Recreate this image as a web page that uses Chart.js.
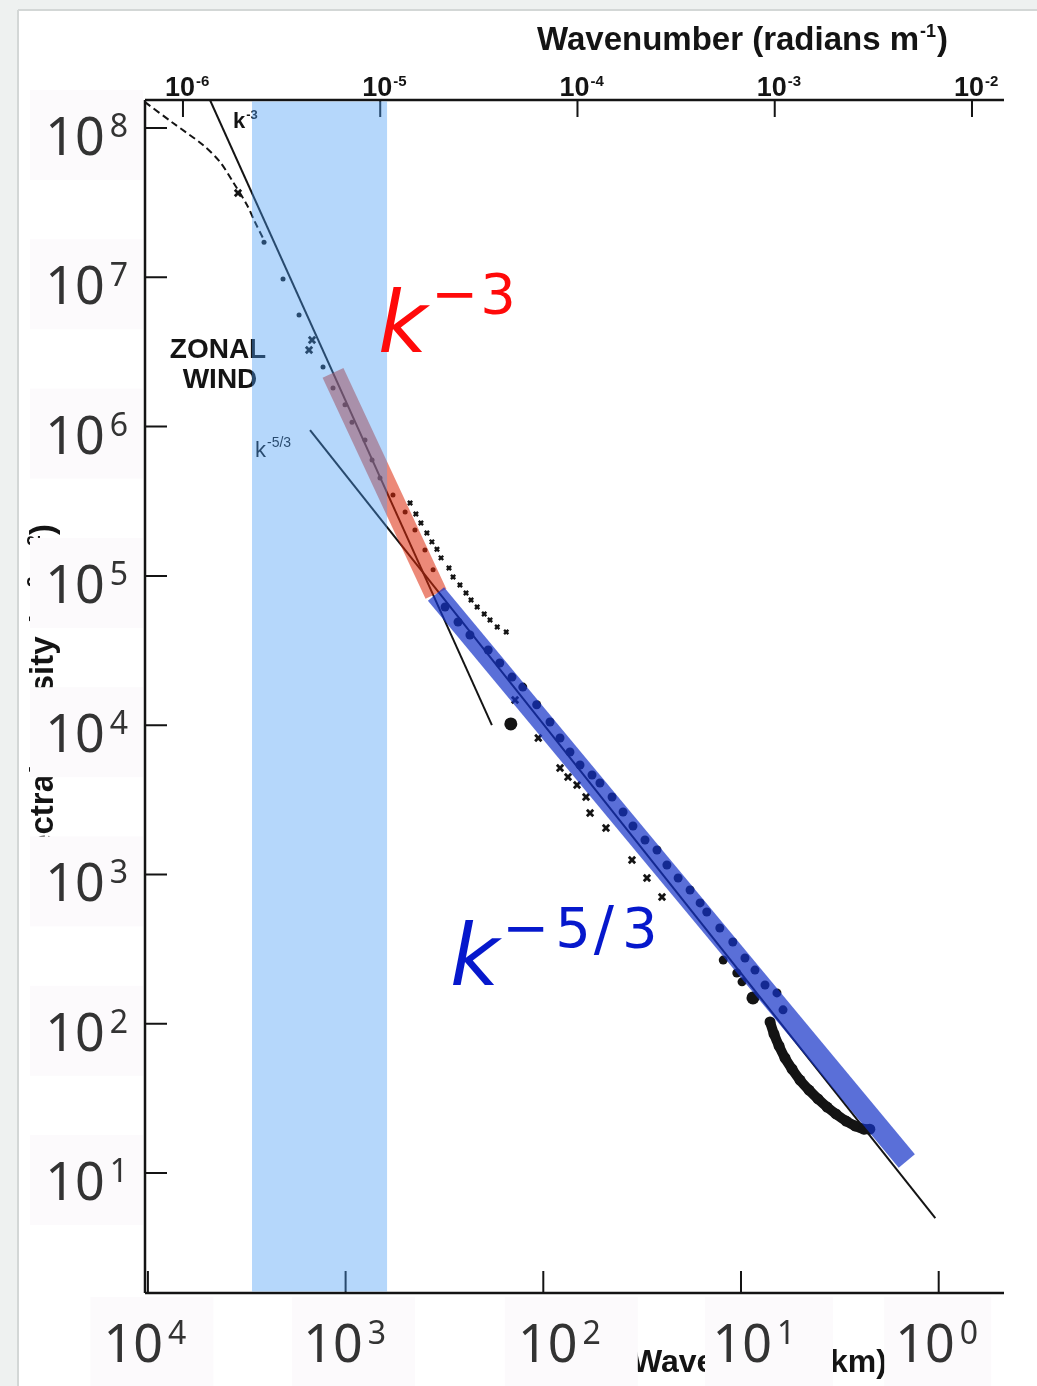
<!DOCTYPE html>
<html>
<head>
<meta charset="utf-8">
<title>Zonal wind spectrum</title>
<script src="https://cdn.jsdelivr.net/npm/chart.js@4.4.1/dist/chart.umd.min.js"></script>
<style>
  html, body { margin: 0; padding: 0; background: #fff; }
  #wrap { width: 1037px; height: 1386px; }
</style>
</head>
<body>
<div id="wrap"><canvas id="spectrum" width="1037" height="1386"></canvas></div>
<script>
// ----- AXES -----
const wavelengthTicks = [1e4, 1e3, 1e2, 1e1, 1];           // km, bottom axis
const densityTicks = [1e1, 1e2, 1e3, 1e4, 1e5, 1e6, 1e7, 1e8];
const wavenumberTicks = [1e-6, 1e-5, 1e-4, 1e-3, 1e-2];     // radians m^-1, top axis
const wavelengthRange = [0.4674, 10344];
const densityRange = [1.5735, 1.54e8];
const wavenumberRange = [6.42e-7, 0.01453];
const shadedBand = [617, 2974];                             // km

// ----- DATA -----
const dashedLambda = [10344, 7464, 5263, 4318, 3711, 3153, 2872, 2617];
const dashedDensity = [1.49e8, 1.08e8, 7.69e7, 5.92e7, 4.35e7, 3.05e7, 2.34e7, 1.83e7];

const kMinus3Lambda = [4852, 182];
const kMinus3Density = [1.54e8, 1.0e4];
const kMinus53Lambda = [1513, 1.04];
const kMinus53Density = [9.48e5, 5.0];

const zonalLambda = [2586, 2073, 1720, 1301, 1158, 1007, 928, 798, 735, 670, 576, 500, 446, 397, 361];
const zonalDensity = [1.72e7, 9.74e6, 5.59e6, 2.51e6, 1.81e6, 1.40e6, 1.07e6, 8.13e5, 5.97e5, 4.53e5, 3.48e5, 2.68e5, 2.03e5, 1.49e5, 1.10e5];
const zonalCrossLambda = [3502, 1531, 1479];
const zonalCrossDensity = [3.67e7, 3.26e6, 3.80e6];

const meridLambda = [472, 441, 416, 388, 366, 345, 329, 300, 286, 264, 246, 232, 216, 199, 186, 171, 154];
const meridDensity = [3.08e5, 2.60e5, 2.26e5, 1.94e5, 1.69e5, 1.51e5, 1.32e5, 1.13e5, 9.83e4, 8.69e4, 7.68e4, 6.90e4, 6.19e4, 5.56e4, 5.07e4, 4.55e4, 4.21e4];

const mainLambda = [314, 270, 235, 190, 166, 144, 127, 108, 92.5, 82.3, 73.3, 65.2, 56.7, 51.7, 44.9, 39.5, 35.2, 30.6, 26.6, 23.7, 20.8, 18.1, 16.1, 14.9, 12.8, 11.0, 9.55, 8.50, 7.56, 6.58, 6.13, 12.3, 10.5, 9.88];
const mainDensity = [6.19e4, 4.91e4, 4.02e4, 3.19e4, 2.61e4, 2.10e4, 1.80e4, 1.37e4, 1.05e4, 8210, 6615, 5413, 4638, 4101, 3305, 2621, 2113, 1703, 1459, 1158, 948, 787, 645, 561, 438, 353, 276, 229, 182, 161, 124, 267, 219, 191];
const bigDotLambda = [146, 8.70];
const bigDotDensity = [1.02e4, 149];

const hookLambda = [7.13, 6.81, 6.42, 5.99, 5.52, 5.03, 4.53, 4.08, 3.67, 3.31, 2.94, 2.65, 2.39, 2.23];
const hookDensity = [102.8, 85.4, 71.0, 59.0, 49.8, 42.0, 36.0, 31.4, 27.7, 24.9, 22.3, 20.7, 19.7, 19.7];

const crossLambda = [139, 106, 82.3, 75.0, 67.5, 60.8, 58.0, 48.2, 35.6, 29.9, 25.1];
const crossDensity = [1.475e4, 8210, 5169, 4498, 3977, 3305, 2581, 2049, 1251, 948, 707];

const redBandLambda = [1158, 349];
const redBandDensity = [2.29e6, 7.57e4];
const blueBandLambda = [349, 1.45];
const blueBandDensity = [7.57e4, 12.05];

// label placement tweaks (pixels)
const xLabelNudge = [-3, -1, 16, 13, -2];
const xLabelBoxShift = [7, 9, 12, 15, 1];
const xLabelBoxWidth = [123, 123, 133, 128, 107];

const INK = '#141414';
const pts = (xs, ys) => xs.map((x, i) => ({ x, y: ys[i] }));

// ----- HELPERS -----
function drawRich(ctx, x, y, runs, align) {
    let total = 0;
    runs.forEach(r => { ctx.font = r.f; r.w = ctx.measureText(r.t).width; total += r.w + (r.gap || 0); });
    let cx = align === 'center' ? x - total / 2 : align === 'right' ? x - total : x;
    ctx.textAlign = 'left';
    ctx.textBaseline = 'alphabetic';
    runs.forEach(r => {
        ctx.font = r.f;
        ctx.fillText(r.t, cx, y + (r.dy || 0));
        cx += r.w + (r.gap || 0);
    });
}

const NOTO = '"Noto Sans", "Open Sans", sans-serif';
const HELV = '"Liberation Sans", Arial, sans-serif';
const DJV = '"DejaVu Sans", sans-serif';

const paperPlugin = {
    id: 'paper',
    beforeDraw(chart) {
        const { ctx, width, height } = chart;
        ctx.save();
        ctx.fillStyle = '#eef1f0';
        ctx.fillRect(0, 0, width, height);
        ctx.fillStyle = '#ffffff';
        ctx.fillRect(19, 11, width - 19, height - 11);
        ctx.strokeStyle = '#d3d7d6';
        ctx.lineWidth = 2;
        ctx.beginPath();
        ctx.moveTo(18, 10); ctx.lineTo(18, height);
        ctx.moveTo(18, 10); ctx.lineTo(width, 10);
        ctx.stroke();
        ctx.restore();
    },
    afterDatasetsDraw(chart) {
        const { ctx, chartArea: a } = chart;
        const xs = chart.scales.x, ys = chart.scales.y, ks = chart.scales.k;
        ctx.save();

        // small labels of the scanned figure
        ctx.fillStyle = INK;
        ctx.textAlign = 'center';
        ctx.font = 'bold 28px ' + HELV;
        ctx.fillText('ZONAL', 218, 358);
        ctx.fillText('WIND', 220, 388);
        drawRich(ctx, 233, 128, [{ t: 'k', f: 'bold 22px ' + HELV, gap: 1 }, { t: '-3', f: 'bold 13px ' + HELV, dy: -9 }], 'left');
        drawRich(ctx, 255, 457, [{ t: 'k', f: '22px ' + HELV, gap: 1 }, { t: '-5/3', f: '14px ' + HELV, dy: -10 }], 'left');

        // axes and inward ticks
        ctx.strokeStyle = INK;
        ctx.lineWidth = 2.5;
        ctx.beginPath();
        ctx.moveTo(a.left, a.top); ctx.lineTo(a.left, a.bottom);
        ctx.moveTo(a.left, a.top); ctx.lineTo(a.right, a.top);
        ctx.moveTo(a.left, a.bottom); ctx.lineTo(a.right, a.bottom);
        ctx.stroke();
        ctx.lineWidth = 2;
        ctx.beginPath();
        densityTicks.forEach(v => { const p = ys.getPixelForValue(v); ctx.moveTo(a.left, p); ctx.lineTo(a.left + 22, p); });
        wavelengthTicks.forEach(v => { const p = xs.getPixelForValue(v); ctx.moveTo(p, a.bottom); ctx.lineTo(p, a.bottom - 22); });
        wavenumberTicks.forEach(v => { const p = ks.getPixelForValue(v); ctx.moveTo(p, a.top); ctx.lineTo(p, a.top + 17); });
        ctx.stroke();

        // translucent highlight band
        const b0 = xs.getPixelForValue(shadedBand[0]), b1 = xs.getPixelForValue(shadedBand[1]);
        ctx.fillStyle = 'rgba(70,155,245,0.4)';
        ctx.fillRect(Math.min(b0, b1), a.top + 1.5, Math.abs(b1 - b0), a.bottom - a.top - 3);

        // big slope labels
        ctx.fillStyle = '#ff0a0a';
        drawRich(ctx, 378, 352, [
            { t: 'k', f: 'oblique 85px ' + DJV, gap: 4 },
            { t: '\u2212', f: '56px ' + DJV, dy: -39, gap: 2 },
            { t: '3', f: '56px ' + DJV, dy: -39 }
        ], 'left');
        ctx.fillStyle = '#0618cc';
        drawRich(ctx, 450, 985, [
            { t: 'k', f: 'oblique 85px ' + DJV, gap: 3 },
            { t: '\u2212', f: '56px ' + DJV, dy: -38, gap: 6 },
            { t: '5', f: '56px ' + DJV, dy: -38, gap: 3 },
            { t: '/', f: '60px ' + DJV, dy: -36, gap: 8 },
            { t: '3', f: '56px ' + DJV, dy: -38 }
        ], 'left');

        // axis titles
        ctx.fillStyle = INK;
        drawRich(ctx, 537, 50, [
            { t: 'Wavenumber (radians m', f: 'bold 33px ' + HELV, gap: 1 },
            { t: '-1', f: 'bold 18px ' + HELV, dy: -13, gap: 1 },
            { t: ')', f: 'bold 33px ' + HELV }
        ], 'left');
        drawRich(ctx, 632, 1372, [{ t: 'Wavelength (km)', f: 'bold 32px ' + HELV }], 'left');
        ctx.save();
        ctx.translate(53, 895);
        ctx.rotate(-Math.PI / 2);
        drawRich(ctx, 0, 0, [
            { t: 'Spectral Density (m', f: 'bold 33px ' + HELV },
            { t: '2', f: 'bold 19px ' + HELV, dy: -13, gap: 6 },
            { t: 's', f: 'bold 33px ' + HELV },
            { t: '-2', f: 'bold 19px ' + HELV, dy: -13 },
            { t: ')', f: 'bold 33px ' + HELV }
        ], 'left');
        ctx.restore();

        // top tick labels
        ctx.fillStyle = INK;
        wavenumberTicks.forEach(v => {
            const p = ks.getPixelForValue(v);
            ctx.font = 'bold 27px ' + HELV;
            const w = ctx.measureText('10').width;
            ctx.fillText('10', p - 3 - w / 2, a.top - 4);
            ctx.font = 'bold 15px ' + HELV;
            ctx.fillText(String(Math.round(Math.log10(v))), p - 3 + w / 2 + 1, a.top - 14);
        });

        // left tick labels on pale boxes
        densityTicks.forEach(v => {
            const p = ys.getPixelForValue(v);
            ctx.fillStyle = '#fcfafc';
            ctx.fillRect(30, p - 38, 113, 90);
            ctx.fillStyle = '#333';
            drawRich(ctx, 128, p + 27, [
                { t: '10', f: '52px ' + NOTO, gap: 5 },
                { t: String(Math.round(Math.log10(v))), f: '32px ' + NOTO, dy: -18 }
            ], 'right');
        });

        // bottom tick labels on pale boxes
        wavelengthTicks.forEach((v, i) => {
            const c = xs.getPixelForValue(v) + xLabelNudge[i];
            ctx.fillStyle = '#fcfafc';
            ctx.fillRect(c + xLabelBoxShift[i] - xLabelBoxWidth[i] / 2, a.bottom + 4, xLabelBoxWidth[i], chart.height - a.bottom - 4);
            ctx.fillStyle = '#333';
            drawRich(ctx, c, a.bottom + 69, [
                { t: '10', f: '52px ' + NOTO, gap: 5 },
                { t: String(Math.round(Math.log10(v))), f: '32px ' + NOTO, dy: -18 }
            ], 'center');
        });

        ctx.restore();
    }
};

// ----- CHART -----
const ctx = document.getElementById('spectrum').getContext('2d');
new Chart(ctx, {
    type: 'scatter',
    data: {
        datasets: [
            { label: 'k-5/3 band', data: pts(blueBandLambda, blueBandDensity), showLine: true, borderColor: 'rgba(20,50,200,0.7)', borderWidth: 21, borderCapStyle: 'butt', pointRadius: 0, order: 0 },
            { label: 'k-3 band', data: pts(redBandLambda, redBandDensity), showLine: true, borderColor: 'rgba(220,40,10,0.55)', borderWidth: 23, borderCapStyle: 'butt', pointRadius: 0, order: 1 },
            { label: 'hook', data: pts(hookLambda, hookDensity), showLine: true, tension: 0.3, borderColor: INK, borderWidth: 10, pointRadius: 5.5, pointBackgroundColor: INK, pointBorderWidth: 0, order: 2 },
            { label: 'big dots', data: pts(bigDotLambda, bigDotDensity), pointRadius: 6.5, pointBackgroundColor: INK, pointBorderWidth: 0, order: 3 },
            { label: 'main', data: pts(mainLambda, mainDensity), pointRadius: 4.5, pointBackgroundColor: INK, pointBorderWidth: 0, order: 3 },
            { label: 'crosses', data: pts(crossLambda, crossDensity), pointStyle: 'crossRot', pointRadius: 4.5, pointBorderColor: INK, pointBorderWidth: 2.8, order: 3 },
            { label: 'meridional', data: pts(meridLambda, meridDensity), pointStyle: 'crossRot', pointRadius: 3, pointBorderColor: INK, pointBorderWidth: 2.4, order: 3 },
            { label: 'zonal', data: pts(zonalLambda, zonalDensity), pointRadius: 2.5, pointBackgroundColor: INK, pointBorderWidth: 0, order: 3 },
            { label: 'zonal x', data: pts(zonalCrossLambda, zonalCrossDensity), pointStyle: 'crossRot', pointRadius: 4.5, pointBorderColor: INK, pointBorderWidth: 2.8, order: 3 },
            { label: 'k-3', data: pts(kMinus3Lambda, kMinus3Density), showLine: true, borderColor: INK, borderWidth: 2, pointRadius: 0, order: 4 },
            { label: 'k-5/3', data: pts(kMinus53Lambda, kMinus53Density), showLine: true, borderColor: INK, borderWidth: 2, pointRadius: 0, order: 4 },
            { label: 'observed', data: pts(dashedLambda, dashedDensity), showLine: true, tension: 0.3, borderColor: INK, borderWidth: 2, borderDash: [7, 4], pointRadius: 0, order: 4 }
        ]
    },
    options: {
        responsive: false,
        animation: false,
        events: [],
        layout: { padding: { left: 145, top: 100, right: 33, bottom: 93 } },
        plugins: { legend: { display: false }, tooltip: { enabled: false } },
        scales: {
            x: { type: 'logarithmic', reverse: true, min: wavelengthRange[0], max: wavelengthRange[1], bounds: 'data', display: false },
            y: { type: 'logarithmic', min: densityRange[0], max: densityRange[1], bounds: 'data', display: false },
            k: { type: 'logarithmic', axis: 'x', position: 'top', min: wavenumberRange[0], max: wavenumberRange[1], bounds: 'data', display: false }
        }
    },
    plugins: [paperPlugin]
});
</script>
</body>
</html>
